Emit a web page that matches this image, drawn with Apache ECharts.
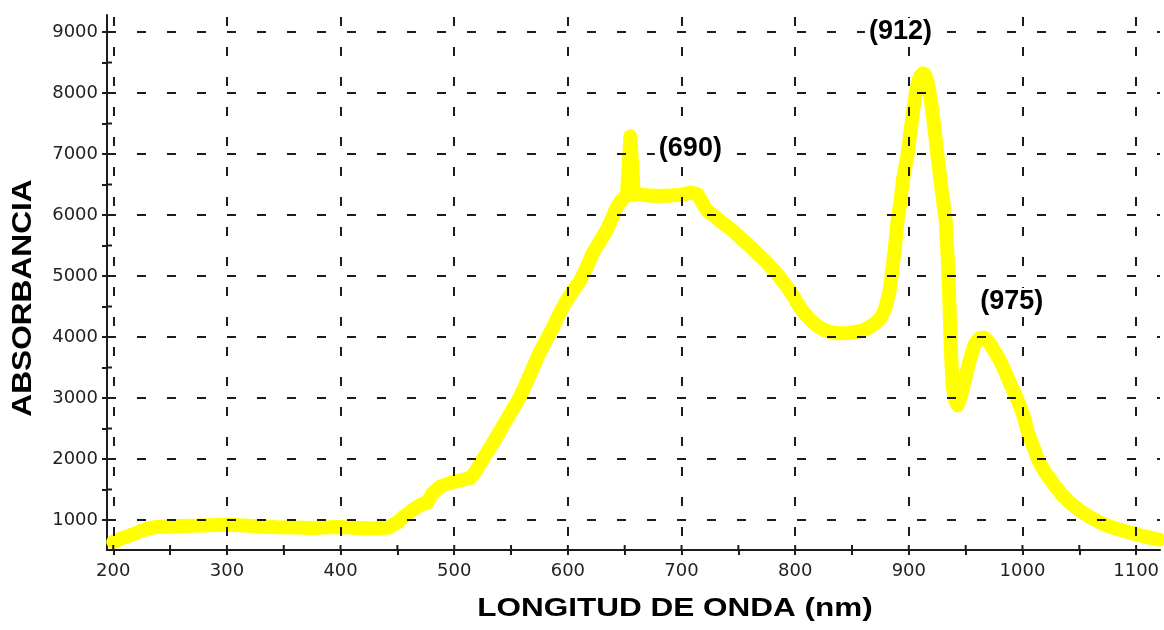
<!DOCTYPE html>
<html>
<head>
<meta charset="utf-8">
<title>Absorbancia</title>
<script src="https://cdn.jsdelivr.net/npm/echarts@6.0.0/dist/echarts.min.js"></script>
<style>
  html, body { margin: 0; padding: 0; background: #fff; }
  #chart { width: 1164px; height: 630px; }
</style>
</head>
<body>
<div id="chart"></div>
<script>
// Spectrum: wavelength (nm) and absorbance
const wavelength = [
  200, 206, 214, 222, 230, 240, 255, 270, 285, 300, 315, 330, 345, 360, 375, 390, 400, 415, 430, 442,
  450, 456, 463, 470, 476, 481, 488, 494, 500, 508, 514, 519, 523, 528, 534, 540, 546, 552, 558, 563,
  567, 571, 575, 581, 587, 593, 599, 605, 611, 617, 622, 628, 634, 639, 643, 648, 652, 655, 658, 665,
  672, 680, 690, 700, 708, 714, 722, 729, 736, 744, 751, 759, 766, 774, 781, 787, 793, 799, 804, 810,
  816, 823, 831, 838, 845, 852, 860, 867, 874, 879, 883, 885.5, 888, 890, 892.5, 895, 899, 903, 906.5, 909.5,
  912, 914.5, 917, 920, 923, 925, 929, 932.5, 934.5, 936, 937.2, 938.5, 941, 943, 946, 950, 954, 958, 962, 966, 971,
  976, 980, 985, 989, 994, 998, 1002, 1005, 1010, 1014, 1020, 1027, 1034, 1042, 1050, 1059, 1068, 1077, 1086, 1095,
  1105, 1115, 1120
];
const absorbance = [
  640, 690, 740, 800, 860, 890, 900, 905, 915, 920, 910, 895, 880, 875, 870, 880, 885, 870, 860, 875,
  960, 1060, 1160, 1245, 1280, 1440, 1550, 1590, 1630, 1660, 1690, 1800, 1930, 2080, 2260, 2450, 2640, 2830, 3020, 3230,
  3400, 3570, 3740, 3950, 4160, 4400, 4600, 4770, 4930, 5160, 5380, 5560, 5750, 5950, 6130, 6260, 6320, 7290, 6340, 6330,
  6320, 6310, 6320, 6330, 6370, 6340, 6080, 5980, 5870, 5760, 5640, 5510, 5380, 5240, 5100, 4960, 4820, 4650, 4490, 4350,
  4230, 4140, 4080, 4060, 4060, 4080, 4110, 4180, 4280, 4450, 4750, 5100, 5500, 5900, 6200, 6600, 7000, 7600, 8050, 8260,
  8320, 8300, 8150, 7800, 7350, 7000, 6400, 5900, 5200, 4400, 3700, 3200, 2950, 2880, 3050, 3350, 3650, 3880, 3980, 3990, 3900,
  3750, 3620, 3420, 3240, 3040, 2860, 2640, 2420, 2180, 1970, 1780, 1600, 1430, 1280, 1160, 1050, 960, 890, 840, 790,
  740, 700, 680
];

// Annotated peaks
const peakNames = ['(690)', '(912)', '(975)'];
const peakWavelengths = [655, 912, 966];

// Axis ranges and tick values
const xRange = [194.5, 1121];
const yRange = [508, 9279];
const xLabelValues = [200, 300, 400, 500, 600, 700, 800, 900, 1000, 1100];
const xTickValues = [200, 250, 300, 350, 400, 450, 500, 550, 600, 650, 700, 750, 800, 850, 900, 950, 1000, 1050, 1100];
const yLabelValues = [1000, 2000, 3000, 4000, 5000, 6000, 7000, 8000, 9000];
const yTickValues = [1000, 1500, 2000, 2500, 3000, 3500, 4000, 4500, 5000, 5500, 6000, 6500, 7000, 7500, 8000, 8500, 9000];

const xTitle = 'LONGITUD DE ONDA (nm)';
const yTitle = 'ABSORBANCIA';

const ink = '#1c1c1c';
const seriesData = wavelength.map((w, i) => [w, absorbance[i]]);
const peakOffsets = [[60, 12], [-22, -42], [28, -36]];
const tickLen = 5;

function valueAxis(kind, range, ticks, labels) {
  const isX = kind === 'x';
  return {
    type: 'value',
    min: range[0],
    max: range[1],
    position: isX ? 'bottom' : 'left',
    axisLine: { show: true, onZero: false, lineStyle: { color: ink, width: 2 } },
    axisTick: { show: true, inside: false, length: tickLen, customValues: ticks, lineStyle: { color: ink, width: 2 } },
    axisLabel: {
      show: true,
      customValues: labels,
      formatter: v => String(v),
      margin: isX ? 12 : 9,
      fontSize: 18,
      fontFamily: 'DejaVu Sans',
      color: '#222'
    },
    splitLine: { show: false }
  };
}

const gridLines = [
  ...xLabelValues.map(v => ({ xAxis: v, lineStyle: { dashOffset: 16 } })),
  ...yLabelValues.map(v => ({ yAxis: v }))
];

const titleTexts = [
  {
    type: 'text', id: 'xTitle', x: 675, y: 609, scaleX: 1.26, z: 10,
    style: { text: xTitle, fill: '#000', font: 'bold 25px "Liberation Sans"', align: 'center', verticalAlign: 'middle' }
  },
  {
    type: 'text', id: 'yTitle', x: 23, y: 298, rotation: Math.PI / 2, scaleX: 1.13, z: 10,
    style: { text: yTitle, fill: '#000', font: 'bold 28px "Liberation Sans"', align: 'center', verticalAlign: 'middle' }
  }
];

const option = {
  backgroundColor: '#ffffff',
  animation: false,
  grid: { left: 107, right: 4, top: 15, bottom: 80, outerBoundsMode: 'none' },
  xAxis: valueAxis('x', xRange, xTickValues, xLabelValues),
  yAxis: valueAxis('y', yRange, yTickValues, yLabelValues),
  series: [
    {
      type: 'line',
      name: 'Absorbancia',
      data: seriesData,
      z: 2,
      showSymbol: false,
      symbol: 'none',
      clip: true,
      lineStyle: { color: '#ffff00', width: 14, cap: 'round', join: 'round' }
    },
    {
      // dashed grid, drawn over the curve
      type: 'line',
      name: 'grid',
      data: [],
      z: 3,
      silent: true,
      markLine: {
        silent: true,
        z: 3,
        symbol: ['none', 'none'],
        label: { show: false },
        lineStyle: { color: ink, width: 2, type: [9, 21] },
        data: gridLines
      }
    }
  ],
  graphic: titleTexts
};

const chart = echarts.init(document.getElementById('chart'), null, { renderer: 'canvas' });
chart.setOption(option);

// Second pass: inward half of each tick (so ticks cross the axis line)
// and the peak annotations, positioned through the axis scales.
const origin = chart.convertToPixel({ gridIndex: 0 }, [xRange[0], yRange[0]]);
const extras = [];
xTickValues.forEach((v, i) => {
  const px = chart.convertToPixel({ xAxisIndex: 0 }, v);
  extras.push({
    type: 'line', id: 'xt' + i, z: 6, silent: true,
    shape: { x1: px, y1: origin[1], x2: px, y2: origin[1] - tickLen },
    style: { stroke: ink, lineWidth: 2 }
  });
});
yTickValues.forEach((v, i) => {
  const py = chart.convertToPixel({ yAxisIndex: 0 }, v);
  extras.push({
    type: 'line', id: 'yt' + i, z: 6, silent: true,
    shape: { x1: origin[0], y1: py, x2: origin[0] + tickLen, y2: py },
    style: { stroke: ink, lineWidth: 2 }
  });
});
peakNames.forEach((name, i) => {
  const idx = wavelength.indexOf(peakWavelengths[i]);
  const p = chart.convertToPixel({ gridIndex: 0 }, [wavelength[idx], absorbance[idx]]);
  extras.push({
    type: 'text', id: 'peak' + i, z: 10, silent: true,
    x: p[0] + peakOffsets[i][0],
    y: p[1] + peakOffsets[i][1],
    style: {
      text: name, fill: '#000', font: 'bold 27px "Liberation Sans"',
      align: 'center', verticalAlign: 'middle',
      backgroundColor: '#ffffff', padding: [0, 4]
    }
  });
});
chart.setOption({ graphic: titleTexts.concat(extras) });
</script>
</body>
</html>
